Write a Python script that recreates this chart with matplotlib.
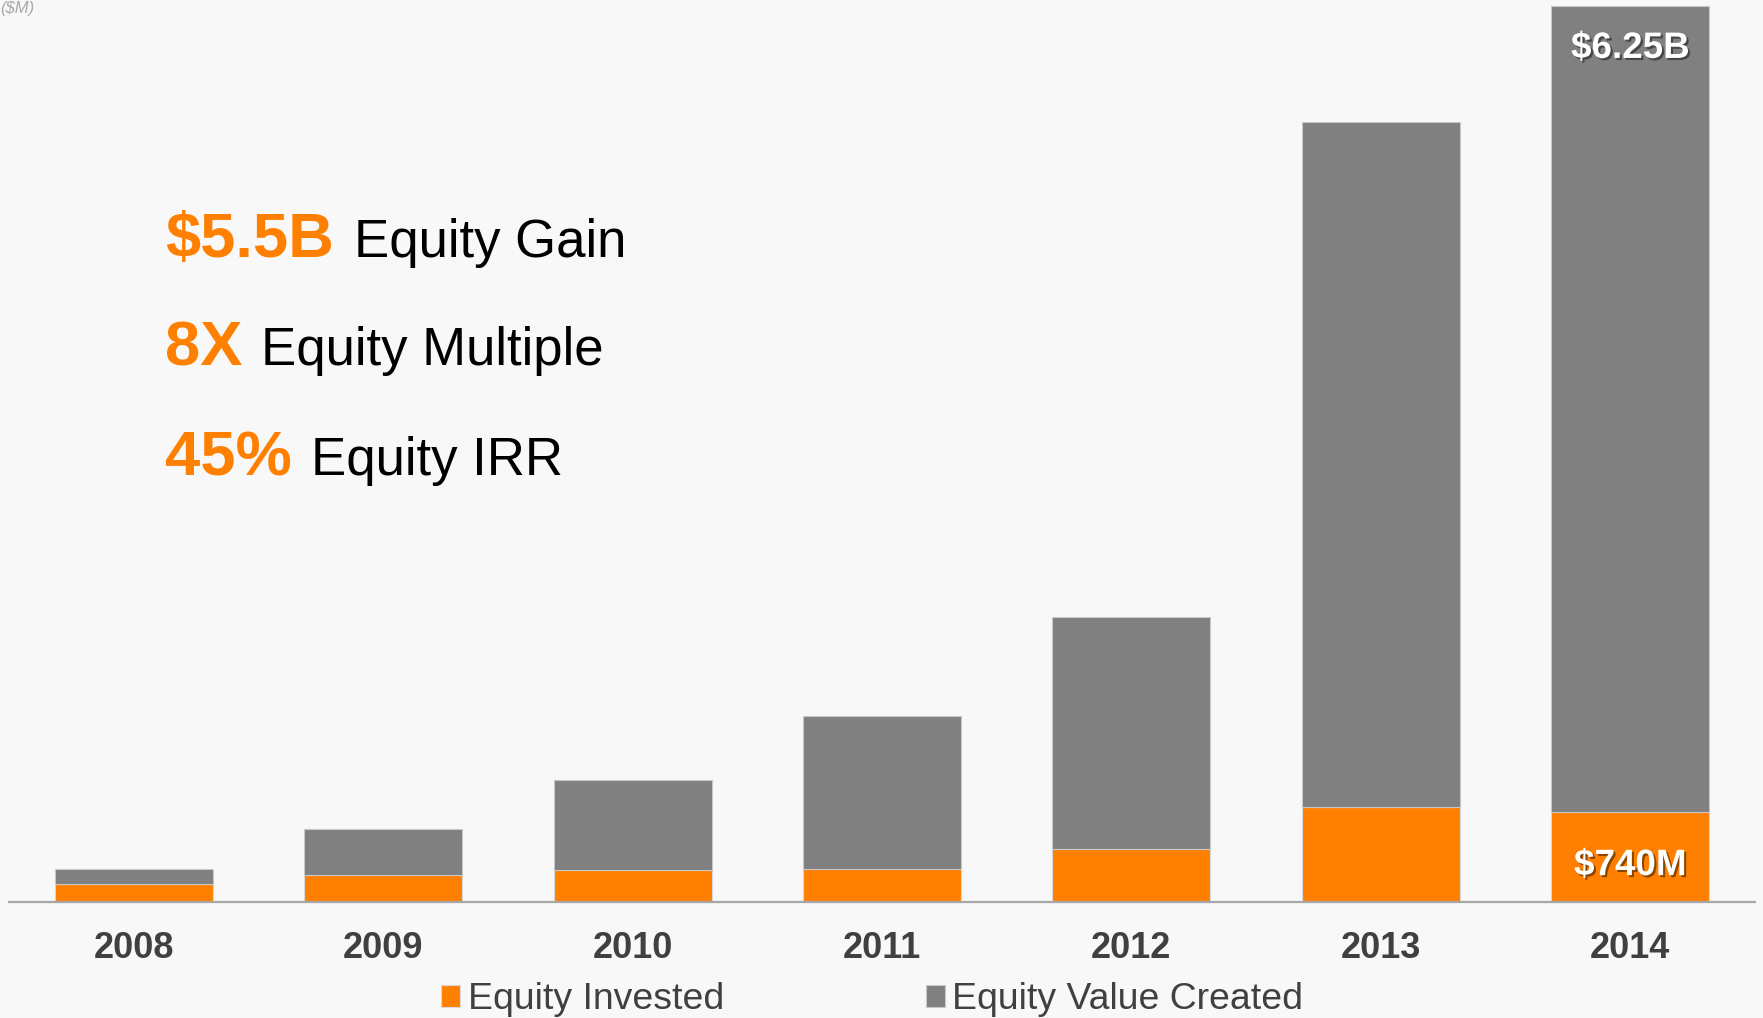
import matplotlib
matplotlib.use("Agg")
from matplotlib import pyplot as plt
from matplotlib import patheffects as pe
import numpy as np

years = ["2008", "2009", "2010", "2011", "2012", "2013", "2014"]
equity_invested = [122, 185, 218, 229, 366, 657, 627]
value_created = [103, 319, 630, 1068, 1617, 4781, 5623]

highlights = [("$5.5B", "Equity Gain"), ("8X", "Equity Multiple"), ("45%", "Equity IRR")]
top_label = "$6.25B"
bottom_label = "$740M"

ORANGE = "#ff8000"
GREY = "#808080"
BG = "#f8f8f8"
TXT = "#404040"

plt.rcParams["font.family"] = ["Liberation Sans", "DejaVu Sans"]

W, H = 1763, 1018
fig = plt.figure(figsize=(W / 100, H / 100), dpi=100, facecolor=BG)


def fx(px):
    return px / W


def fy(py):
    return 1 - py / H


ax = fig.add_axes([fx(9), fy(901.5), fx(1755) - fx(9), (901.5 - 6) / H])
ax.patch.set_alpha(0)

x = np.arange(len(years))
inv = np.array(equity_invested)
cre = np.array(value_created)
b1 = ax.bar(x, inv, 0.633, color=ORANGE, edgecolor="#d8d8d8", linewidth=0.8,
            label="Equity Invested", clip_on=False)
b2 = ax.bar(x, cre, 0.633, bottom=inv, color=GREY, edgecolor="#c8c8c8", linewidth=0.8,
            label="Equity Value Created", clip_on=False)
ax.set_xlim(-0.5, len(years) - 0.5)
ax.set_ylim(0, (inv + cre).max())

for s in ["top", "left", "right"]:
    ax.spines[s].set_visible(False)
ax.spines["bottom"].set_color("#a6a6a6")
ax.spines["bottom"].set_linewidth(1.6)
ax.set_yticks([])
ax.set_xticks(x, years)
ax.tick_params(axis="x", length=0, pad=21, labelsize=26, labelcolor=TXT)
for lab in ax.get_xticklabels():
    lab.set_fontweight("bold")

# labels on the last bar
shadow = [pe.withSimplePatchShadow(offset=(1.5, -1.5), shadow_rgbFace="black", alpha=0.45)]
total = inv + cre
ax.annotate(top_label, xy=(x[-1], total[-1]), xytext=(0, -37.4), textcoords="offset points",
            ha="center", va="baseline", fontsize=26.5, fontweight="bold", color="white",
            path_effects=shadow)
ax.annotate(bottom_label, xy=(x[-1], 0), xytext=(0, 19), textcoords="offset points",
            ha="center", va="baseline", fontsize=26.5, fontweight="bold", color="white",
            path_effects=shadow)

# highlight text block
rows_y = [257, 365, 475]
rows_x2 = [354, 261, 311]
for (big, small), yy, x2 in zip(highlights, rows_y, rows_x2):
    fig.text(fx(165), fy(yy), big, fontsize=45.5, fontweight="bold", color=ORANGE, va="baseline")
    fig.text(fx(x2), fy(yy), small, fontsize=38, color="black", va="baseline")

fig.text(fx(0), fy(13), "($M)", fontsize=12, style="italic", color="#a8a8a8", va="baseline")

leg = ax.legend(handles=[b1, b2], loc="lower left", bbox_to_anchor=(fx(441), fy(1017)),
                bbox_transform=fig.transFigure, ncol=2, frameon=False, fontsize=26.9,
                handlelength=0.51, handleheight=0.51, handletextpad=0.2, columnspacing=5.4,
                borderpad=0, borderaxespad=0)
for t in leg.get_texts():
    t.set_color(TXT)

fig.savefig("out.png", dpi=100, facecolor=BG)
